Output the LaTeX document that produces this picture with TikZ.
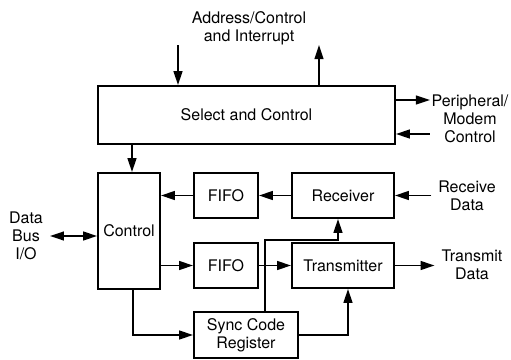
\documentclass[tikz,border=0pt]{standalone}
\usepackage{fontspec}
\setmainfont{TeX Gyre Heros}
\usetikzlibrary{arrows.meta,positioning,calc}

\begin{document}
\begin{tikzpicture}[x=0.5pt,y=-0.5pt,
    every node/.style={font=\fontsize{8}{9}\selectfont, align=center},
    blk/.style={draw, line width=0.9pt, inner sep=0pt},
    sig/.style={line width=0.9pt, -{Triangle[length=7pt,width=4.4pt]}},
    sigb/.style={line width=0.9pt, {Triangle[length=7pt,width=4.4pt]}-{Triangle[length=7pt,width=4.4pt]}}]
\useasboundingbox (0,0) rectangle (511,360);

% Bloklar
\node[blk, minimum width=148.5pt, minimum height=29pt] (sel) at (246.5,115) {Select and Control};
\node[blk, minimum width=31pt, minimum height=58pt] (ctl) at (129,231) {Control};
\node[blk, minimum width=32pt, minimum height=22.5pt] (fifoA) at (226,195.5) {FIFO};
\node[blk, minimum width=51pt, minimum height=22.5pt] (rcv) at (343,195.5) {Receiver};
\node[blk, minimum width=32pt, minimum height=22.5pt] (fifoB) at (226,265.5) {FIFO};
\node[blk, minimum width=51pt, minimum height=22.5pt] (xmt) at (343,265.5) {Transmitter};
\node[blk, minimum width=52pt, minimum height=23pt] (sync) at (246,335) {Sync Code\\Register};

% Dis etiketler
\node (addr) at (249,28) {Address/Control\\and Interrupt};
\node (pmc) at (470,119) {Peripheral/\\Modem\\Control};
\node (rdat) at (467,196) {Receive\\Data};
\node (tdat) at (472,265) {Transmit\\Data};
\node (dbus) at (26,236) {Data\\Bus\\I/O};

% Serbest uclar
\coordinate (adin) at (178,45);
\coordinate (adout) at (319,45);
\coordinate (pmout) at (430,100);
\coordinate (pmin) at (430,134);
\coordinate (bend) at (338,240);

% Baglantilar
\draw[sig] (adin) -- (adin |- sel.north);
\draw[sig] (adout |- sel.north) -- (adout);
\draw[sig] (pmout -| sel.east) -- (pmout);
\draw[sig] (pmin) -- (pmin -| sel.east);
\draw[sig] ([xshift=1.5pt]sel.south -| ctl.north) -- ([xshift=1.5pt]ctl.north);
\draw[sigb] (dbus.east) -- (dbus.east -| ctl.west);

\draw[sig] (rcv.west) -- (fifoA.east);
\draw[sig] (fifoA.west) -- (ctl.east |- fifoA.west);
\draw[sig] (rdat.west |- rcv.east) -- (rcv.east);
\draw[sig] (ctl.east |- fifoB.west) -- (fifoB.west);
\draw[sig] (fifoB.east) -- (xmt.west);
\draw[sig] (xmt.east) -- (tdat.west |- xmt.east);

% Sync yollari
\draw[sig] ([xshift=2pt]ctl.south) |- (sync.west);
\draw[sig] (sync.east) -| ([xshift=2.5pt]xmt.south);
\draw[sig] ([xshift=9.5pt]sync.north) |- (bend) -- (bend |- rcv.south);
\end{tikzpicture}
\end{document}
